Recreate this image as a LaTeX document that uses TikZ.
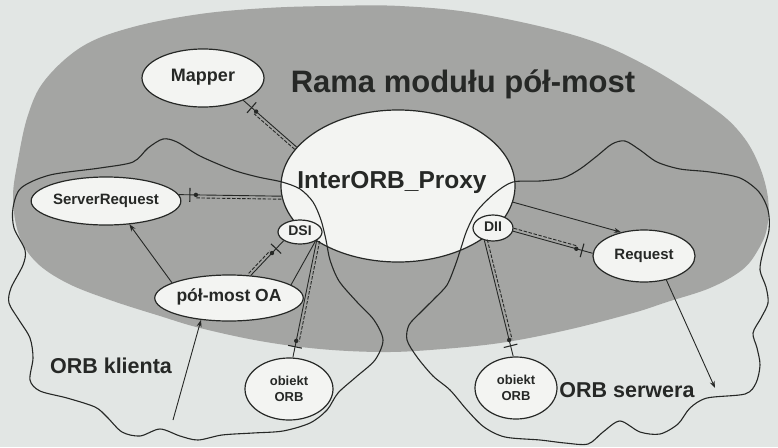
\documentclass[tikz,border=0pt]{standalone}
\usepackage{fontspec}
\setmainfont{Liberation Sans}
\usetikzlibrary{shapes.geometric,calc,arrows.meta}

\definecolor{paper}{RGB}{226,230,228}
\definecolor{framegray}{RGB}{164,165,163}
\definecolor{bubble}{RGB}{243,244,242}
\definecolor{ink}{RGB}{38,40,38}

% interface connector: solid line, parallel dashed line, dot and tee bar near the provider
\newcommand\ifaceline[2]{%
  \draw[conn] (#1) -- (#2);
  \draw[conn, dash pattern=on 3.5pt off 1.6pt]
    ($(#1)!3pt!90:(#2)$) -- ($(#2)!17pt!(#1)!3pt!-90:(#1)$);
  \draw[conn, line width=1.1pt] ($(#2)!11pt!(#1)!7pt!90:(#1)$) -- ($(#2)!11pt!(#1)!7pt!-90:(#1)$);
  \fill[ink] ($(#2)!17pt!(#1)$) circle (2.2pt);
}

\begin{document}
\begin{tikzpicture}[x=1pt,y=-1pt,
  oval/.style={ellipse, draw=ink, line width=1.2pt, fill=bubble, inner sep=0pt,
               text=ink, font=\bfseries},
  capbox/.style={text height=0.72em, text depth=0pt},
  conn/.style={draw=ink, line width=0.9pt},
  wave/.style={draw=ink, line width=1.1pt},
  tip/.style={-{Stealth[length=7pt,width=5pt]}},
  caption/.style={text=ink, font=\bfseries, inner sep=0pt}]

\useasboundingbox (0,0) rectangle (778,447);
\fill[paper] (0,0) rectangle (778,447);

% frame of the half-bridge module
\fill[framegray] plot[smooth cycle, tension=0.6] coordinates {
  (400,6) (480,14) (580,37) (647,66) (713,108) (742,135) (759,165) (768,198)
  (767,228) (758,250) (742,270) (710,288) (667,302) (633,313) (567,330)
  (500,343) (430,350) (380,352) (320,349) (260,341) (200,328) (160,316)
  (110,300) (67,283) (36,262) (19,235) (13,198) (18,160) (28,115) (45,80)
  (83,46) (133,27) (200,14) (267,8) (330,6)};

\node[oval, minimum width=234pt, minimum height=152pt] (proxy) at (398,186) {};

% client ORB boundary
\draw[wave] plot[smooth cycle] coordinates {
  (282,182) (300,189) (313,202) (321,220) (326,240) (330,260) (339,281)
  (357,302) (374,320) (383,340) (375,360) (356,377) (338,393) (327,410)
  (310,423) (283,431) (253,433) (222,435) (198,440) (180,436) (160,429)
  (140,436) (122,432) (107,417) (95,407) (67,398) (40,391) (30,380)
  (33,358) (30,338) (19,320) (9,303) (11,288) (23,265) (25,250) (14,228)
  (13,208) (21,188) (50,175) (100,168) (133,162) (148,148) (163,139)
  (177,142) (200,156) (233,170) (258,177)};

% server ORB boundary
\draw[wave] plot[smooth cycle] coordinates {
  (513,182) (540,181) (563,178) (580,169) (597,156) (612,144) (625,141)
  (640,150) (657,162) (680,169) (710,172) (740,178) (759,192) (768,210)
  (769,230) (763,252) (760,270) (766,287) (768,303) (761,318) (753,333)
  (757,348) (760,365) (756,383) (745,394) (707,398) (690,408) (678,424)
  (660,434) (640,432) (620,421) (603,432) (588,444) (565,443) (540,440)
  (505,437) (484,427) (467,410) (450,390) (433,376) (417,357) (407,340)
  (409,325) (421,312) (435,298) (447,285) (455,266) (461,248) (467,230)
  (477,211) (495,193)};

% components
\node[oval, capbox, minimum width=122pt, minimum height=58pt, font=\bfseries\fontsize{18}{20}\selectfont] (mapper) at (203,78) {Mapper};
\node[oval, capbox, minimum width=142pt, minimum height=48pt, font=\bfseries\fontsize{15}{17}\selectfont] (sreq) at (106,201) {ServerRequest};
\node[oval, capbox, minimum width=44pt, minimum height=24pt, font=\bfseries\fontsize{14}{16}\selectfont] (dsi) at (300,232) {DSI};
\node[oval, capbox, minimum width=40pt, minimum height=26pt, font=\bfseries\fontsize{14}{16}\selectfont] (dii) at (493,228) {DII};
\node[oval, capbox, minimum width=102pt, minimum height=52pt, font=\bfseries\fontsize{15}{17}\selectfont] (req) at (644,256) {Request};
\node[oval, capbox, minimum width=134pt, minimum height=46pt, font=\bfseries\fontsize{17.5}{20}\selectfont] (pm) at (229,298) {pół-most OA};
\node[oval, align=center, minimum width=88pt, minimum height=62pt, font=\bfseries\fontsize{13}{15.5}\selectfont] (ob1) at (289,389) {obiekt\\ORB};
\node[oval, align=center, minimum width=82pt, minimum height=62pt, font=\bfseries\fontsize{13}{15.5}\selectfont] (ob2) at (516,388) {obiekt\\ORB};

\coordinate (pmfoot) at (173,420);
\coordinate (reqfoot) at (715,388);

% interface connections
\ifaceline{proxy.159}{mapper.-29}
\ifaceline{proxy.185}{sreq.5}
\ifaceline{pm.46}{dsi.208}
\ifaceline{dsi.-27}{ob1.83}
\ifaceline{dii.235}{ob2.95}
\ifaceline{dii.-9}{req.177}

% plain calls
\draw[conn] (pm.12) -- (dsi.-31);
\draw[conn, tip] (pm.165) -- (sreq.-45);
\draw[conn, tip] (pmfoot) -- (pm.218);
\draw[conn, tip] (proxy.-8) -- (req.134);
\draw[conn, tip] (req.-47) -- (reqfoot);

% captions
\node[caption, anchor=base, font=\bfseries\fontsize{31}{36}\selectfont] (title) at (463,92) {Rama modułu pół-most};
\node[caption, anchor=base, font=\bfseries\fontsize{24.5}{28}\selectfont] (proxytitle) at (392,188) {InterORB\_Proxy};
\node[caption, anchor=base, font=\bfseries\fontsize{21.5}{24}\selectfont] (client) at (111,373) {ORB klienta};
\node[caption, anchor=base, font=\bfseries\fontsize{21.5}{24}\selectfont] (server) at (627,397) {ORB serwera};
\end{tikzpicture}
\end{document}
